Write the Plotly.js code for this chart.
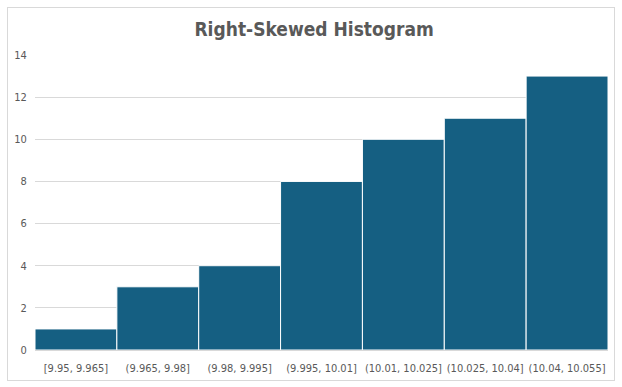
<!DOCTYPE html>
<html><head><meta charset="utf-8">
<script src="https://cdn.plot.ly/plotly-3.0.1.min.js"></script>
<style>
html,body{margin:0;padding:0;background:#fff;}
#wrap{position:relative;width:622px;height:387px;}
#chart{width:622px;height:387px;}
#frame{position:absolute;left:7px;top:7px;width:606px;height:372px;border:1px solid #d9d9d9;pointer-events:none;}
</style></head>
<body>
<div id="wrap"><div id="chart"></div><div id="frame"></div></div>
<script>
const binLabels = ["[9.95, 9.965]","(9.965, 9.98]","(9.98, 9.995]","(9.995, 10.01]","(10.01, 10.025]","(10.025, 10.04]","(10.04, 10.055]"];
const counts = [1, 3, 4, 8, 10, 11, 13];
const yTicks = [0, 2, 4, 6, 8, 10, 12, 14];
const chartTitle = "Right-Skewed Histogram";

const fontFam = "'Liberation Sans Narrow', 'DejaVu Sans Condensed', 'Liberation Sans', sans-serif";

Plotly.newPlot('chart', [{
  type: 'bar',
  x: binLabels,
  y: counts,
  marker: {color: '#155f82', line: {color: '#ffffff', width: 1}},
  hoverinfo: 'x+y'
}], {
  width: 622, height: 387,
  margin: {l: 35, r: 14, t: 55, b: 37, pad: 0},
  paper_bgcolor: '#ffffff', plot_bgcolor: '#ffffff',
  bargap: 0,
  showlegend: false,
  title: {text: '<b>' + chartTitle + '</b>', x: 0.505, xanchor: 'center', y: 0.925, yanchor: 'middle',
          font: {family: fontFam, size: 19, color: '#595959'}},
  xaxis: {type: 'category', showgrid: false, zeroline: false, showline: true, linecolor: '#d9d9d9', linewidth: 1,
          ticks: 'outside', ticklen: 8, tickcolor: 'rgba(0,0,0,0)',
          tickfont: {family: fontFam, size: 11, color: '#595959'}},
  yaxis: {range: [0, 14], tickvals: yTicks, showgrid: true, gridcolor: '#d9d9d9', gridwidth: 1, zeroline: false,
          showline: false, ticks: 'outside', ticklen: 5, tickcolor: 'rgba(0,0,0,0)',
          tickfont: {family: fontFam, size: 11, color: '#595959'}}
}, {displayModeBar: false, staticPlot: true});
</script>
</body></html>
